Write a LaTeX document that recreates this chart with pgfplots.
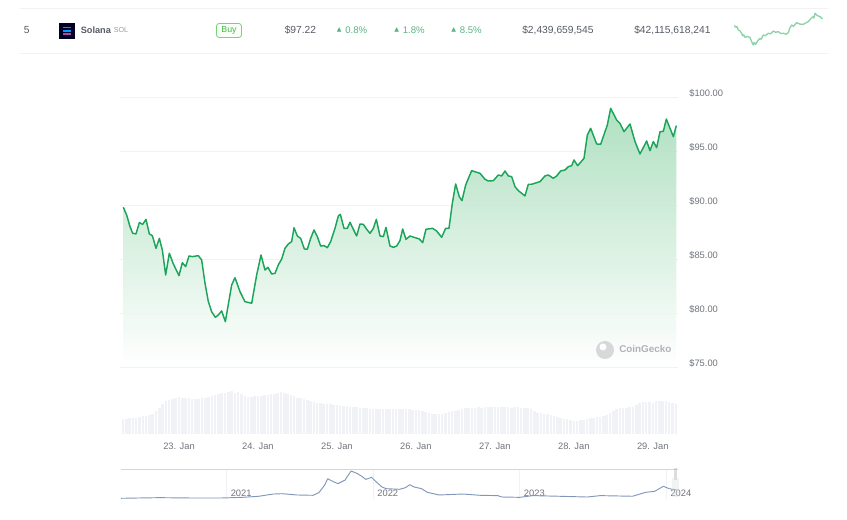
\documentclass[border=0pt]{standalone}
\usepackage{pgfplots}
\usepackage{pgfplotstable}
\pgfplotsset{compat=1.18}
\usepackage{fontspec}
\setmainfont{Liberation Sans}
\newfontfamily\sym{DejaVu Sans}
\definecolor{linegreen}{HTML}{1BA45A}
\definecolor{topgreen}{HTML}{A8DDBB}
\definecolor{gridc}{HTML}{F0F2F4}
\definecolor{lab}{HTML}{6F747B}
\definecolor{rowt}{HTML}{565B63}
\definecolor{pct}{HTML}{58B283}
\definecolor{volc}{HTML}{F0F2F6}
\definecolor{navc}{HTML}{8296BA}
\definecolor{spark}{HTML}{8CD3A8}
\pgfplotstableread{
h p
-16.92 89.79
-15.90 89.07
-14.89 88.00
-14.08 87.38
-13.07 87.32
-12.05 88.37
-11.04 88.21
-10.03 88.67
-9.01 87.32
-8.10 87.16
-6.99 85.99
-5.97 86.91
-5.06 85.83
-4.05 83.52
-2.94 85.53
-1.72 84.54
0.00 83.46
1.02 84.66
2.03 84.29
3.04 85.28
4.06 85.22
5.88 85.31
6.89 84.91
7.91 82.75
8.92 81.05
9.93 80.12
11.05 79.60
11.96 79.82
12.97 80.19
14.09 79.20
16.01 82.59
17.02 83.27
18.54 81.98
20.06 81.05
22.09 80.90
23.61 83.52
24.93 85.37
26.14 83.98
27.05 84.23
28.17 83.61
29.18 83.67
30.19 84.45
31.21 85.00
32.22 85.99
33.23 86.39
34.25 86.61
34.96 87.90
35.97 87.13
36.98 86.91
38.10 85.93
39.01 85.90
40.02 86.91
41.04 87.69
42.05 87.07
43.06 86.20
44.08 86.24
45.09 86.05
46.10 86.61
47.42 87.84
48.43 88.98
49.04 89.14
50.15 87.84
51.17 87.84
51.98 88.40
52.99 87.75
54.00 87.13
55.02 88.24
56.03 88.21
57.04 87.75
58.06 87.38
59.07 87.84
59.98 88.67
61.10 87.13
62.11 87.07
62.92 87.93
64.13 86.20
65.15 86.08
66.16 86.20
67.17 86.70
67.98 87.78
68.99 86.82
70.21 87.13
71.73 86.98
73.05 86.85
74.06 86.51
75.07 87.75
77.10 87.84
78.31 87.59
79.83 87.01
81.05 87.84
82.06 87.84
83.08 90.16
84.09 91.95
85.20 90.77
86.01 90.40
87.13 91.85
88.95 93.18
91.49 92.93
93.01 92.38
94.02 92.22
95.54 92.25
97.06 92.78
98.07 92.69
99.09 93.15
100.10 92.69
101.11 92.63
102.13 91.70
103.14 91.33
105.16 90.84
106.18 91.92
107.19 91.92
109.72 92.16
111.24 92.69
112.26 92.78
113.78 92.47
114.79 92.69
116.00 93.15
117.32 93.24
118.33 93.55
119.35 93.64
120.06 94.17
121.17 93.64
123.10 94.32
124.11 96.48
125.12 97.10
126.95 95.65
128.16 95.62
130.19 97.41
131.20 98.95
133.03 97.87
134.04 97.56
135.26 96.79
137.08 97.50
138.60 95.87
140.12 94.72
142.14 95.93
143.16 95.03
144.17 95.87
145.18 95.31
146.20 96.79
147.21 96.82
148.12 97.96
150.25 96.33
151.16 97.35
}\pricetable
\pgfplotstableread{
h v
-17 15
-16 15
-15 16
-14 16
-13 16
-12 17
-11 18
-10 18
-9 19
-8 20
-7 23
-6 26
-5 30
-4 33
-3 34
-2 35
-1 36
0 37
1 36
2 36
3 36
4 35
5 35
6 35
7 36
8 36
9 37
10 38
11 39
12 40
13 41
14 41
15 42
16 43
17 41
18 42
19 40
20 38
21 37
22 37
23 38
24 38
25 38
26 39
27 39
28 40
29 40
30 41
31 42
32 41
33 40
34 39
35 38
36 36
37 36
38 35
39 34
40 33
41 32
42 31
43 31
44 30
45 30
46 30
47 29
48 29
49 28
50 28
51 28
52 27
53 27
54 27
55 26
56 26
57 26
58 25
59 25
60 25
61 25
62 25
63 25
64 25
65 25
66 25
67 25
68 25
69 25
70 25
71 24
72 24
73 24
74 23
75 22
76 21
77 20
78 20
79 20
80 20
81 21
82 22
83 23
84 23
85 24
86 25
87 26
88 26
89 26
90 26
91 27
92 26
93 27
94 27
95 27
96 27
97 27
98 27
99 27
100 27
101 26
102 27
103 27
104 26
105 26
106 26
107 25
108 23
109 21
110 21
111 20
112 20
113 19
114 18
115 17
116 16
117 15
118 15
119 14
120 13
121 13
122 14
123 14
124 15
125 16
126 16
127 17
128 17
129 18
130 19
131 21
132 23
133 25
134 26
135 26
136 26
137 27
138 27
139 29
140 31
141 32
142 32
143 32
144 31
145 33
146 33
147 33
148 33
149 32
150 31
151 30
}\voltable
\pgfplotstableread{
y p
2020.28 1
2020.54 7
2020.75 4
2020.97 4
2021.11 10
2021.22 20
2021.32 41
2021.38 44
2021.48 32
2021.59 29
2021.63 54
2021.67 125
2021.69 184
2021.73 156
2021.76 138
2021.81 172
2021.82 197
2021.85 256
2021.89 234
2021.92 209
2021.95 178
2021.99 197
2022.02 156
2022.06 107
2022.09 91
2022.18 85
2022.22 100
2022.25 128
2022.28 107
2022.33 91
2022.37 57
2022.45 32
2022.61 41
2022.73 29
2022.85 26
2022.88 13
2023.00 10
2023.09 26
2023.27 20
2023.46 13
2023.55 26
2023.77 20
2023.86 57
2023.92 66
2023.98 113
2024.02 91
2024.07 79
}\navtable
\pgfplotstableread{
h p
-17 91.2
-14 90.2
-12 90.6
-9.4 88.5
-6 87.8
-3 86.4
-1 84.8
1 85.4
3.4 83.8
8 84.4
12.9 83.8
16 81.2
19.3 79
21 80.6
23.7 79.4
28 81.8
32 83.2
34 82.6
38.3 85.3
42 84.8
47.9 86.4
52 86
57.4 87.8
62 87
67 87.4
72 86.2
76.5 86.4
82 85.8
86 86.8
89 89.6
92.4 91.6
96 90.8
102 93.1
108 92.2
114.7 92
120 93
124.2 93.7
129 95.6
133.7 96.9
135 96
137 99
141 97.6
146.5 96.9
151 95.4
}\sparktable
\begin{document}
\begin{tikzpicture}[x=0.75pt,y=0.75pt]
\useasboundingbox (0,0) rectangle (847,520);
% table row
\draw[gridc,line width=0.6pt] (20,511.5) -- (828,511.5);
\draw[gridc,line width=0.6pt] (20,467) -- (828,467);
\tikzset{rowtxt/.style={font=\fontsize{7.7pt}{9pt}\selectfont,text=rowt,inner sep=0pt,anchor=west}}
\node[rowtxt] at (23.5,490) {5};
\fill[black!85!blue] (59,481) rectangle (75,497);
\fill[teal!70!cyan] (63,491.5) rectangle (71,493);
\fill[blue!40!cyan] (63,488.3) rectangle (71,489.8);
\fill[violet!70!white] (63,485) rectangle (71,486.5);
\node[rowtxt,font=\fontsize{6.9pt}{9pt}\selectfont\bfseries] at (80.5,490) {Solana};
\node[rowtxt,font=\fontsize{5.4pt}{7pt}\selectfont,text=lab!70] at (113.5,490) {SOL};
\draw[draw=green!50!gray!70,fill=green!3,line width=0.6pt,rounded corners=2pt] (216.5,482.5) rectangle (241.5,496.5);
\node[rowtxt,font=\fontsize{6.6pt}{8pt}\selectfont,text=green!45!gray,anchor=center] at (229,489.5) {Buy};
\node[rowtxt] at (284.5,490) {\$97.22};
\tikzset{pcttxt/.style={rowtxt,text=pct,font=\fontsize{7.2pt}{9pt}\selectfont},tri/.style={inner sep=0pt,text=pct,font=\fontsize{4.6pt}{5pt}\selectfont\sym,anchor=west}}
\node[tri] at (336.5,490.5) {▲};\node[pcttxt] at (345,490) {0.8\%};
\node[tri] at (394,490.5) {▲};\node[pcttxt] at (402.5,490) {1.8\%};
\node[tri] at (451,490.5) {▲};\node[pcttxt] at (459.5,490) {8.5\%};
\node[rowtxt] at (522,490) {\$2,439,659,545};
\node[rowtxt] at (634,490) {\$42,115,618,241};
% sparkline
\begin{axis}[at={(734.3*0.75pt,475*0.75pt)},anchor=south west,scale only axis,
  width=88*0.75pt,height=31.7*0.75pt,xmin=-17,xmax=151,ymin=79,ymax=99,
  axis lines=none,clip=false]
\addplot[spark,line width=1pt,line join=round] table[x=h,y=p]{\sparktable};
\end{axis}
% main price chart
\begin{axis}[at={(120*0.75pt,153*0.75pt)},anchor=south west,scale only axis,
  width=558*0.75pt,height=270*0.75pt,
  xmin=-17.93,xmax=151.67,ymin=75,ymax=100,
  axis x line=none,axis y line*=right,y axis line style={draw=none},
  ytick={75,80,85,90,95,100},
  yticklabels={\$75.00,\$80.00,\$85.00,\$90.00,\$95.00,\$100.00},
  ymajorgrids,grid style={gridc,line width=0.6pt},
  major tick length=0pt,
  yticklabel style={font=\fontsize{7pt}{8pt}\selectfont,text=lab,anchor=west,inner sep=0pt,xshift=8.3pt,yshift=2.8pt},
  clip=false]
\addplot[draw=none,shade,top color=topgreen,bottom color=white,fill opacity=0.9] table[x=h,y=p]{\pricetable} \closedcycle;
\addplot[linegreen,line width=1.1pt,line join=round] table[x=h,y=p]{\pricetable};
\end{axis}
% watermark
\fill[lab!28] (605,170) circle[radius=9];
\fill[white] (603,173) circle[radius=3.5];
\node[inner sep=0pt,anchor=west,font=\fontsize{7.4pt}{9pt}\selectfont\bfseries,text=lab!55] at (619,171) {CoinGecko};
% volume
\begin{axis}[at={(120*0.75pt,86*0.75pt)},anchor=south west,scale only axis,
  width=558*0.75pt,height=45*0.75pt,
  xmin=-17.93,xmax=151.67,ymin=0,ymax=45,
  axis y line=none,axis x line*=bottom,x axis line style={draw=none},
  xtick={0,24,48,72,96,120,144},
  xticklabels={23. Jan,24. Jan,25. Jan,26. Jan,27. Jan,28. Jan,29. Jan},
  major tick length=0pt,
  xticklabel style={font=\fontsize{7pt}{8pt}\selectfont,text=lab,inner sep=0pt,anchor=center,yshift=-9pt},
  clip=false]
\addplot[ycomb,volc,line width=1.9pt,mark=none] table[x=h,y=v]{\voltable};
\end{axis}
% navigator
\begin{axis}[at={(121*0.75pt,21*0.75pt)},anchor=south west,scale only axis,
  width=557*0.75pt,height=30*0.75pt,
  xmin=2020.28,xmax=2024.08,ymin=-5.5,ymax=275,
  axis y line=none,axis x line*=top,
  x axis line style={draw=gridc!88!black,line width=0.6pt},
  xtick={2021,2022,2023,2024},
  xticklabels={2021,2022,2023,2024},
  xmajorgrids,grid style={gridc,line width=0.6pt},
  major tick length=0pt,
  xticklabel style={font=\fontsize{7pt}{8pt}\selectfont,text=lab,inner sep=0pt,anchor=base west,xshift=3pt,yshift=-20.5pt},
  clip=false]
\addplot[navc,line width=0.7pt,line join=round] table[x=y,y=p]{\navtable};
\end{axis}
\fill[lab!45,opacity=.55] (673.5,40) rectangle (677,52);
\fill[lab!25,opacity=.35] (672,23) rectangle (679,42);
\end{tikzpicture}
\end{document}
